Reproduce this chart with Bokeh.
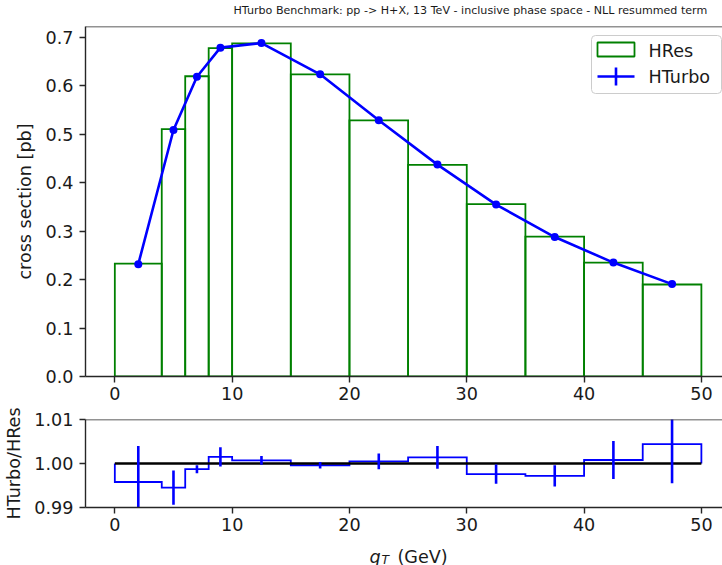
from bokeh.plotting import figure
from bokeh.layouts import column
from bokeh.models import (Range1d, FixedTicker, PrintfTickFormatter, Span, Label,
                          BoxAnnotation, ColumnDataSource)
from bokeh.embed import file_html
from bokeh.resources import INLINE

# ---------------- data ----------------
title_text = "HTurbo Benchmark: pp -> H+X, 13 TeV - inclusive phase space - NLL resummed term"
bin_edges = [0, 4, 6, 8, 10, 15, 20, 25, 30, 35, 40, 45, 50]
hres = [0.233, 0.511, 0.620, 0.678, 0.688, 0.624, 0.529, 0.437, 0.356, 0.289, 0.235, 0.190]
hturbo = [0.232, 0.509, 0.619, 0.679, 0.6885, 0.624, 0.529, 0.4375, 0.355, 0.288, 0.2352, 0.1908]
ratio = [0.9958, 0.9945, 0.9987, 1.0015, 1.0007, 0.9996, 1.0005, 1.0014, 0.9976, 0.9972, 1.0008, 1.0044]
ratio_err = [0.0082, 0.0039, 0.0009, 0.0022, 0.0010, 0.00075, 0.0018, 0.0026, 0.0022, 0.0024, 0.0043, 0.0089]
ratio_ref = 1.0
x_ticks = [0, 10, 20, 30, 40, 50]
y_ticks_main = [0.0, 0.1, 0.2, 0.3, 0.4, 0.5, 0.6, 0.7]
y_ticks_ratio = [0.99, 1.00, 1.01]
x_lim = (-2.5, 51.8)
y_lim_main = (0.0, 0.7227)
y_lim_ratio = (0.99, 1.01)

GREEN = "#008000"
BLUE = "#0000ff"
AXC = "#262626"
TXT = "#1a1a1a"
FONT = "DejaVu Sans"
FS = "17.6px"

centers = [(bin_edges[i] + bin_edges[i + 1]) / 2 for i in range(len(hres))]


def style_axes(p, yfmt):
    for ax in p.xaxis + p.yaxis:
        ax.axis_line_color = AXC
        ax.axis_line_width = 1.4
        ax.major_tick_line_color = AXC
        ax.major_tick_line_width = 1.4
        ax.major_tick_in = 0
        ax.major_tick_out = 6
        ax.minor_tick_line_color = None
        ax.major_label_text_font = FONT
        ax.major_label_text_font_size = FS
        ax.major_label_text_color = TXT
        ax.axis_label_text_font = FONT
        ax.axis_label_text_font_size = FS
        ax.axis_label_text_font_style = "normal"
        ax.axis_label_text_color = TXT
    p.xaxis.ticker = FixedTicker(ticks=x_ticks)
    p.xaxis.major_label_standoff = 4
    p.yaxis.major_label_standoff = 6
    p.yaxis.formatter = PrintfTickFormatter(format=yfmt)
    p.xgrid.grid_line_color = None
    p.ygrid.grid_line_color = None
    p.outline_line_color = None
    p.background_fill_color = "white"
    p.border_fill_color = "white"


def text_strip(height):
    s = figure(width=722, height=height, output_backend="svg", toolbar_location=None,
               x_range=Range1d(0, 1), y_range=Range1d(0, 1),
               x_axis_location=None, y_axis_location=None,
               min_border_left=0, min_border_right=0, min_border_top=0, min_border_bottom=0)
    s.xgrid.grid_line_color = None
    s.ygrid.grid_line_color = None
    s.outline_line_color = None
    s.border_fill_color = "white"
    return s


def screen_box(**kw):
    return BoxAnnotation(left_units="screen", right_units="screen",
                         top_units="screen", bottom_units="screen",
                         level="overlay", **kw)


# ---------------- title strip ----------------
p0 = text_strip(20)
p0.add_layout(Label(x=148, y=10, x_units="screen", y_units="screen", text=title_text,
                    text_font=FONT, text_font_size="11.1px", text_baseline="middle",
                    text_color=TXT))

# ---------------- main panel ----------------
p1 = figure(width=722, height=387, output_backend="svg", toolbar_location=None,
            x_range=Range1d(*x_lim), y_range=Range1d(*y_lim_main),
            min_border_left=85, min_border_right=0, min_border_top=6, min_border_bottom=31)
style_axes(p1, "%.1f")
p1.yaxis.ticker = FixedTicker(ticks=y_ticks_main)
p1.yaxis.axis_label = "cross section [pb]"
p1.yaxis.axis_label_standoff = 8

src_h = ColumnDataSource(dict(left=bin_edges[:-1], right=bin_edges[1:],
                              top=hres, bottom=[0] * len(hres)))
p1.quad(left="left", right="right", top="top", bottom="bottom", source=src_h,
        fill_color=None, line_color=GREEN, line_width=1.8, line_join="miter")
p1.line(centers, hturbo, line_color=BLUE, line_width=2.6)
p1.scatter(centers, hturbo, size=8, fill_color=BLUE, line_color=None)
p1.add_layout(Span(location=y_lim_main[1], dimension="width", line_color=AXC, line_width=1.4))

# legend (matplotlib style)
p1.add_layout(screen_box(left=506, right=636, top=341, bottom=283,
                         fill_color="white", fill_alpha=0.8, line_color="#cccccc",
                         line_alpha=1, line_width=1, border_radius=4))
p1.add_layout(screen_box(left=512, right=549, top=334, bottom=320,
                         fill_color=None, fill_alpha=0, line_color=GREEN,
                         line_alpha=1, line_width=1.8))
p1.add_layout(screen_box(left=512, right=549, top=301.3, bottom=298.7,
                         fill_color=BLUE, fill_alpha=1, line_color=None))
p1.add_layout(screen_box(left=529.2, right=531.8, top=309, bottom=291,
                         fill_color=BLUE, fill_alpha=1, line_color=None))
for lbl, yy in (("HRes", 326), ("HTurbo", 300)):
    p1.add_layout(Label(x=563, y=yy, x_units="screen", y_units="screen", text=lbl,
                        text_font=FONT, text_font_size=FS, text_baseline="middle",
                        text_color=TXT, level="overlay"))

# ---------------- ratio panel ----------------
p2 = figure(width=722, height=133, output_backend="svg", toolbar_location=None,
            x_range=Range1d(*x_lim), y_range=Range1d(*y_lim_ratio),
            min_border_left=85, min_border_right=0, min_border_top=12, min_border_bottom=33)
style_axes(p2, "%.2f")
p2.yaxis.ticker = FixedTicker(ticks=y_ticks_ratio)
p2.yaxis.axis_label = "HTurbo/HRes"
p2.yaxis.axis_label_standoff = 7

step_x = [bin_edges[0]]
step_y = [ratio_ref]
for i, r in enumerate(ratio):
    step_x += [bin_edges[i], bin_edges[i + 1]]
    step_y += [r, r]
step_x.append(bin_edges[-1])
step_y.append(ratio_ref)
p2.line(step_x, step_y, line_color=BLUE, line_width=1.8, line_join="miter")
p2.line([bin_edges[0], bin_edges[-1]], [ratio_ref, ratio_ref], line_color="black", line_width=2.6)
p2.segment(x0=centers, x1=centers,
           y0=[r - e for r, e in zip(ratio, ratio_err)],
           y1=[r + e for r, e in zip(ratio, ratio_err)],
           line_color=BLUE, line_width=2.6)
p2.add_layout(Span(location=y_lim_ratio[1], dimension="width", line_color=AXC, line_width=1.4))

# ---------------- x label strip: q_T (GeV) ----------------
p3 = text_strip(25)
for txt, xx, yy, fs, style in (("q", 284, 9, FS, "italic"),
                               ("T", 296, 6, "12.3px", "italic"),
                               ("(GeV)", 312, 9, FS, "normal")):
    p3.add_layout(Label(x=xx, y=yy, x_units="screen", y_units="screen",
                        text=txt, text_font=FONT, text_font_size=fs,
                        text_font_style=style, text_baseline="alphabetic",
                        text_color=TXT))

layout = column(p0, p1, p2, p3)
open("out.html", "w").write(file_html(layout, INLINE))
